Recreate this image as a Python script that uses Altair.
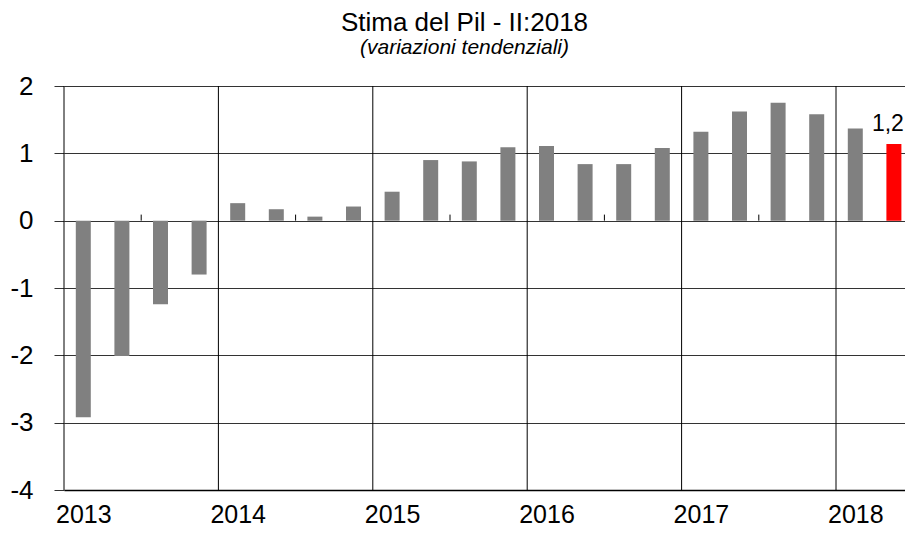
import altair as alt
import pandas as pd

years = [2013, 2014, 2015, 2016, 2017, 2018]
quarters = ["I", "II", "III", "IV"]
values = [-2.92, -2.01, -1.24, -0.80,
          0.26, 0.17, 0.06, 0.21,
          0.43, 0.90, 0.88, 1.09,
          1.11, 0.84, 0.84, 1.08,
          1.32, 1.62, 1.75, 1.58,
          1.37, 1.14]
bar_labels = [""] * 21 + ["1,2"]
highlight = [False] * 21 + [True]

periods = []
for y in years:
    for q in quarters:
        periods.append(f"{q}:{y}")
periods = periods[:len(values)]

df = pd.DataFrame({
    "period": periods,
    "pos": [i + 0.5 for i in range(len(values))],
    "value": values,
    "label": bar_labels,
    "hl": highlight,
})

year_bounds = pd.DataFrame({"b": [4 * i for i in range(len(years))]})
mid_ticks = pd.DataFrame({"m": [4 * i + 2 for i in range(len(years) - 1)]})
year_label_pos = [4 * i + 0.5 for i in range(len(years))]
year_names = "[" + ",".join(f"'{y}'" for y in years) + "]"

FONT = "Liberation Sans"
PLOT_W = 841
STEP = 38.6  # pixels per quarter

xscale = alt.Scale(domain=[0, PLOT_W / STEP], nice=False, zero=False, padding=0)
yscale = alt.Scale(domain=[-4, 2], nice=False, padding=0)

x_axis = alt.Axis(values=year_label_pos, labelExpr=f"{year_names}[floor(datum.value/4)]",
                  grid=False, ticks=False, domain=True, domainColor="black", domainWidth=1.5,
                  labelFontSize=25, labelFont=FONT, labelColor="black", labelPadding=12,
                  title=None, labelFlush=False, labelOverlap=False)
y_axis = alt.Axis(values=[-4, -3, -2, -1, 0, 1, 2], labelExpr="datum.value + ''",
                  grid=True, gridColor="#333333", gridWidth=1, gridOpacity=1,
                  ticks=True, tickSize=10, tickColor="#333333",
                  domain=False,
                  labelFontSize=26, labelFont=FONT, labelColor="black", labelPadding=21,
                  title=None)

bars = alt.Chart(df).mark_bar(size=15).encode(
    x=alt.X("pos:Q", scale=xscale, axis=x_axis),
    y=alt.Y("value:Q", scale=yscale, axis=y_axis),
    color=alt.condition("datum.hl", alt.value("#ff0000"), alt.value("#808080")),
)

vlines = alt.Chart(year_bounds).mark_rule(color="black", strokeWidth=1).encode(
    x=alt.X("b:Q", scale=xscale),
)

minor = alt.Chart(mid_ticks).mark_rule(color="black", strokeWidth=1).encode(
    x=alt.X("m:Q", scale=xscale),
    y=alt.datum(0),
    y2=alt.datum(0.09),
)

text = alt.Chart(df).mark_text(baseline="bottom", dy=-8, dx=-6, fontSize=23, font=FONT, color="black").encode(
    x=alt.X("pos:Q", scale=xscale),
    y=alt.Y("value:Q", scale=yscale),
    text="label:N",
)

chart = alt.layer(vlines, bars, minor, text).properties(
    width=PLOT_W,
    height=404,
    autosize=alt.AutoSizeParams(type="none"),
    padding={"left": 56, "top": 78, "right": 0, "bottom": 40},
    title=alt.TitleParams(
        "Stima del Pil - II:2018",
        subtitle="(variazioni tendenziali)",
        anchor="middle", dx=-20, offset=14,
        font=FONT, fontSize=26, fontWeight="normal", color="black",
        subtitleFont=FONT, subtitleFontSize=21, subtitleFontStyle="italic",
        subtitleColor="black", subtitlePadding=1,
    ),
).configure_view(stroke=None)

chart.save("out.html", embed_options={"renderer": "svg", "actions": False})
